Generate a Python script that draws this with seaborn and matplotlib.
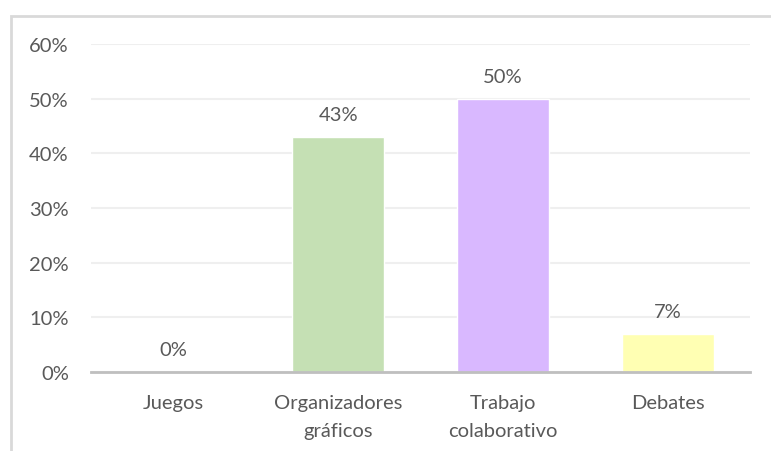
import numpy as np
import pandas as pd
import seaborn as sns
import matplotlib.pyplot as plt
from matplotlib.patches import Rectangle

# Datos del gráfico
categorias = ["Juegos", "Organizadores\ngráficos", "Trabajo\ncolaborativo", "Debates"]
valores = [0.0, 0.43, 0.50, 0.07]
etiquetas = ["0%", "43%", "50%", "7%"]
colores = ["#C5E0B4", "#C5E0B4", "#D9B8FF", "#FFFFB3"]

sns.set_style("white")
plt.rcParams['font.family'] = ['Lato', 'DejaVu Sans']

df = pd.DataFrame({"categoria": categorias, "valor": valores})

fig = plt.figure(figsize=(7.71, 4.52), dpi=100)
ax = fig.add_axes([0.118, 0.1748, 0.8548, 0.7256])

sns.barplot(data=df, x="categoria", y="valor", hue="categoria", palette=colores,
            width=0.56, legend=False, ax=ax, saturation=1)

# Etiquetas de valor encima de cada barra
for i, (v, t) in enumerate(zip(valores, etiquetas)):
    ax.text(i, v + 0.025, t, ha='center', va='bottom', fontsize=14.5, color='#595959')

ax.set_ylim(0, 0.6)
ax.set_xlim(-0.5, 3.5)
ax.set_yticks(np.arange(0, 0.61, 0.1))
ax.set_yticklabels([f"{int(round(v * 100))}%" for v in np.arange(0, 0.61, 0.1)])
ax.yaxis.grid(True, color='#EFEFEF', linewidth=1.5)
ax.set_axisbelow(True)
ax.set_xlabel("")
ax.set_ylabel("")
ax.tick_params(axis='both', length=0, labelsize=14.5, labelcolor='#595959')
ax.tick_params(axis='y', pad=16)
ax.tick_params(axis='x', pad=16)
for lbl in ax.get_xticklabels():
    lbl.set_linespacing(1.75)
for s in ['top', 'right', 'left']:
    ax.spines[s].set_visible(False)
ax.spines['bottom'].set_color('#BFBFBF')
ax.spines['bottom'].set_linewidth(2)

# Borde del área del gráfico
fig.patches.append(Rectangle((11 / 771, -0.1), 1.2, 1 - 17 / 452 + 0.1, transform=fig.transFigure,
                             fill=False, edgecolor='#D9D9D9', linewidth=2))

fig.savefig("out.png", dpi=100)
